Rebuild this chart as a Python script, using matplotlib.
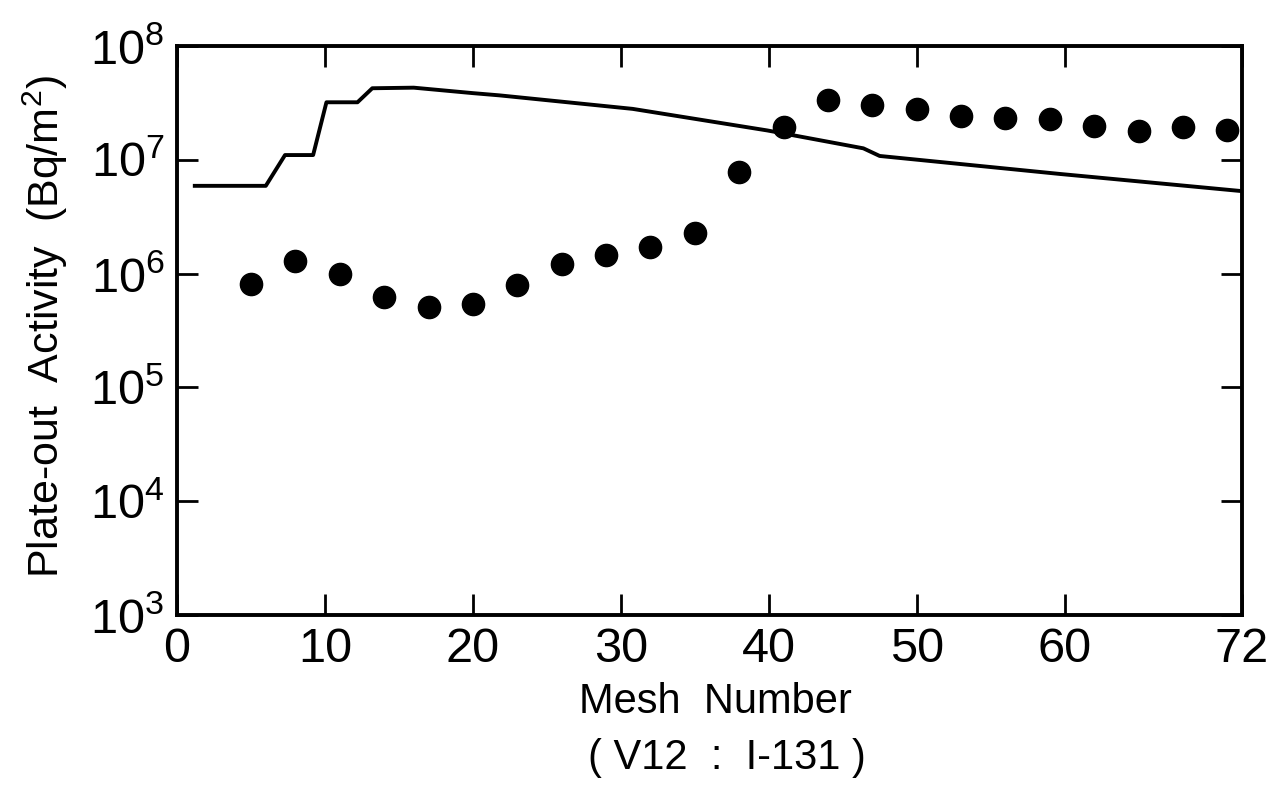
import matplotlib
matplotlib.use('Agg')
import matplotlib.pyplot as plt
import numpy as np
from matplotlib import rcParams

rcParams.update({
    "font.family": ['Liberation Sans', 'DejaVu Sans'],
    "mathtext.fontset": 'custom',
    "mathtext.rm": 'Liberation Sans',
    "axes.unicode_minus": False,
})

# calculated plate-out activity (solid line)
calc_mesh = [1.2, 6.0, 7.3, 9.2, 10.1, 12.2, 13.2, 16.0, 20.0, 21.8, 30.8,
             39.9, 46.4, 47.5, 59.7, 72.0]
calc_act = [5.9e6, 5.9e6, 1.1e7, 1.1e7, 3.2e7, 3.2e7, 4.25e7, 4.3e7, 3.85e7,
            3.68e7, 2.8e7, 1.81e7, 1.26e7, 1.08e7, 7.5e6, 5.3e6]

# measured plate-out activity (dots)
meas_mesh = [5, 8, 11, 14, 17, 20, 23, 26, 29, 32, 35, 38, 41, 44, 47, 50,
             53, 56, 59, 62, 65, 68, 71]
meas_act = [8.1e5, 1.29e6, 9.9e5, 6.2e5, 5.1e5, 5.4e5, 8.0e5, 1.22e6, 1.47e6,
            1.71e6, 2.27e6, 7.8e6, 1.96e7, 3.36e7, 3.02e7, 2.8e7, 2.4e7,
            2.31e7, 2.27e7, 2.0e7, 1.79e7, 1.96e7, 1.82e7]

x_ticks = [0, 10, 20, 30, 40, 50, 60, 72]
x_ticklabels = ['0', '10', '20', '30', '40', '50', '60', '72']
y_ticks = [1e3, 1e4, 1e5, 1e6, 1e7, 1e8]

fig = plt.figure(figsize=(12.7, 7.87), dpi=100)
ax = fig.add_axes([0.1394, 0.2186, 0.8386, 0.723])

ax.plot(calc_mesh, calc_act, color='black', linewidth=2.8, zorder=2)
ax.plot(meas_mesh, meas_act, linestyle='none', marker='o', markersize=16,
        color='black', zorder=3, clip_on=False)

ax.set_yscale('log')
ax.set_xlim(0, 72)
ax.set_ylim(1e3, 1e8)
ax.set_xticks(x_ticks)
ax.set_xticklabels(x_ticklabels)
ax.set_yticks(y_ticks)
ax.minorticks_off()

ax.tick_params(axis='both', which='major', direction='in', length=15,
               width=2.0, top=True, right=True, labelsize=35, pad=9)
for s in ax.spines.values():
    s.set_linewidth(2.8)

fig.text(0.036, 0.585, 'Plate-out  Activity  (Bq/m$^{\\mathregular{2}}$)',
         fontsize=31, rotation=90, ha='center', va='center')
fig.text(0.563, 0.108, 'Mesh  Number', fontsize=30,
         ha='center', va='center')
fig.text(0.572, 0.037, '( V12  :  I-131 )', fontsize=30,
         ha='center', va='center')

plt.savefig('out.png', dpi=100)
